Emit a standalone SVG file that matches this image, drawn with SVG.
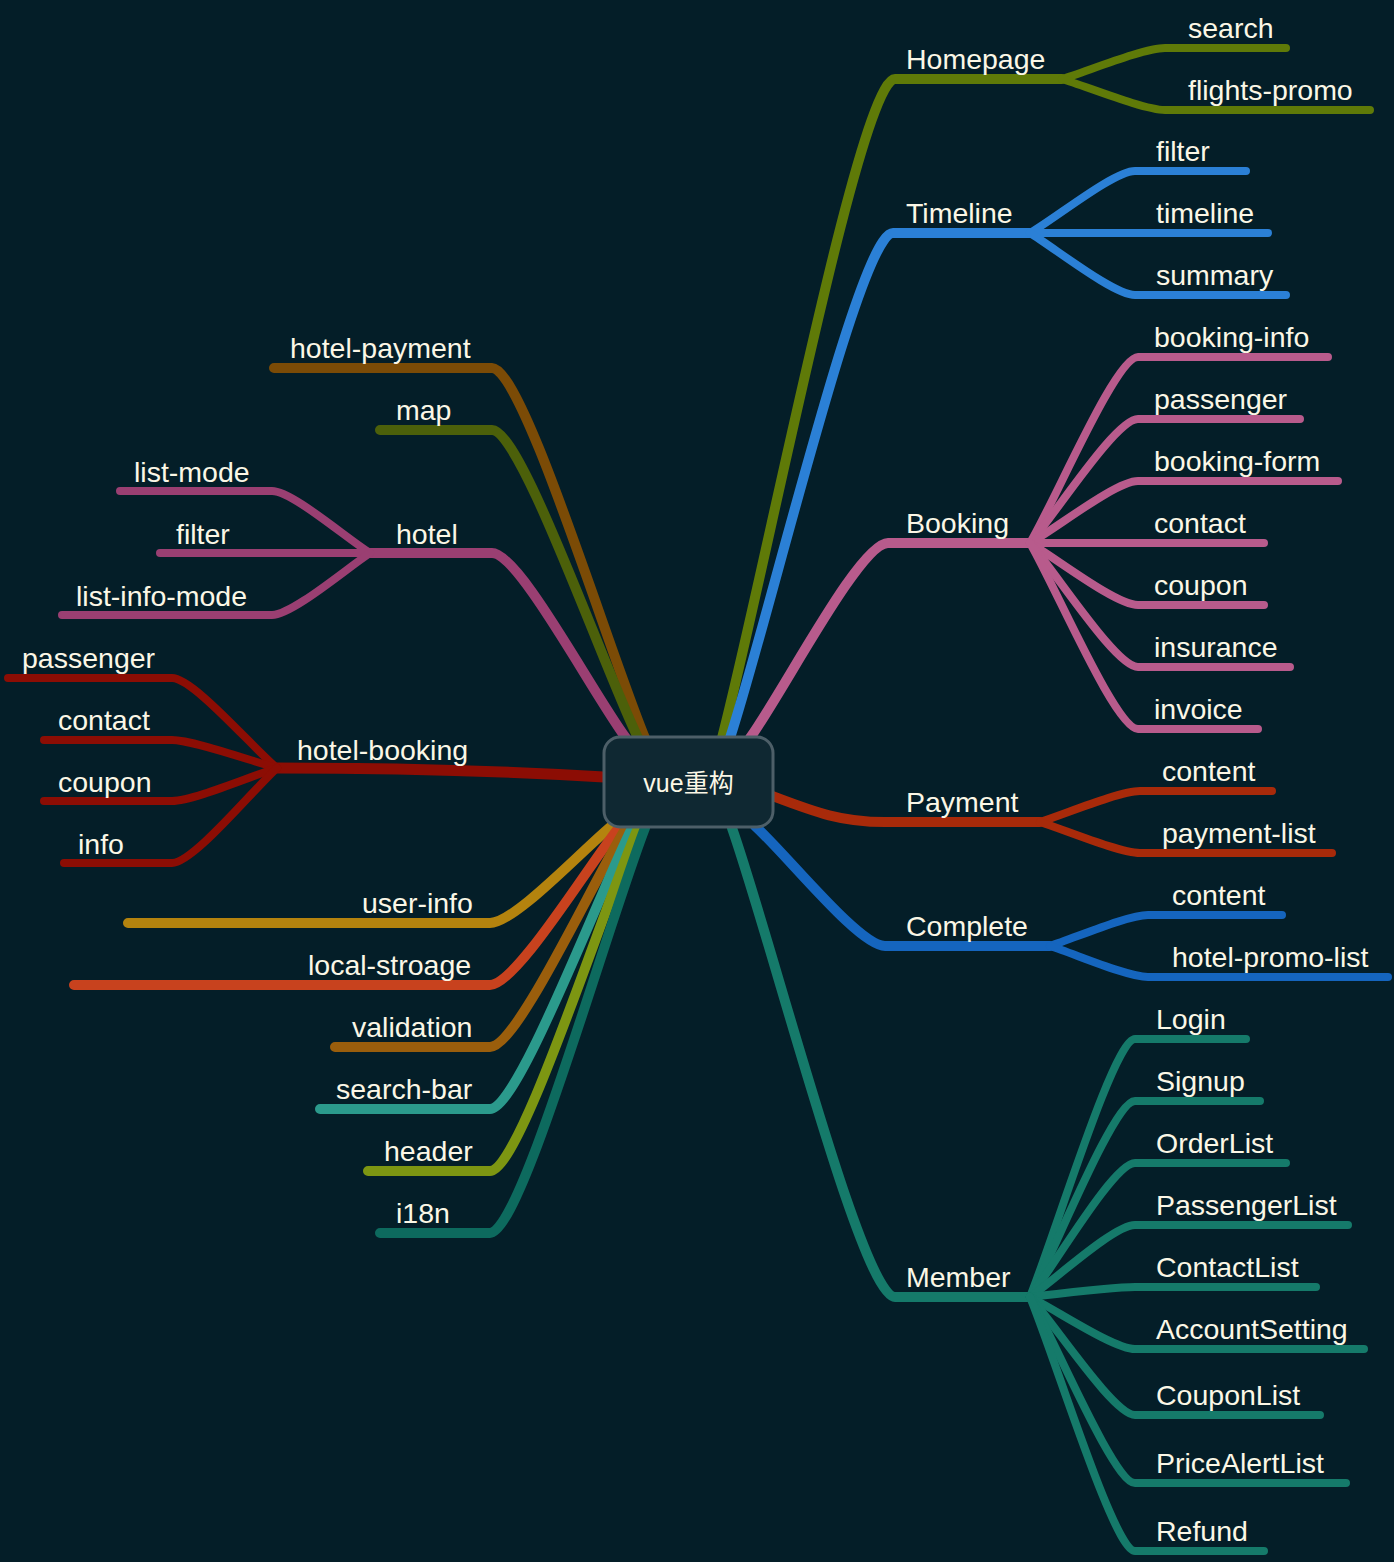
<svg xmlns="http://www.w3.org/2000/svg" width="1394" height="1562" viewBox="0 0 1394 1562">
<style>
.t{font-family:"Liberation Sans",Arial,sans-serif;font-size:28.5px;fill:#fbf7e6}
.r{font-family:"Liberation Sans","Noto Sans CJK SC",sans-serif;font-size:25px;fill:#fbf7e6}
.c path{fill:none;stroke-linecap:round;stroke-linejoin:round}
.m{stroke-width:10}
.s{stroke-width:8}
</style>
<rect width="1394" height="1562" fill="#041e28"/>
<g id="connectors" class="c">
<g stroke="#7b4b06"><path class="m" d="M645 738 C607 646 523 368 492 368 H274"/></g>
<g stroke="#4c600a"><path class="m" d="M638 738 C601 661 521 430 492 430 H380"/></g>
<g stroke="#9a3f72">
<path class="m" d="M626 738 C592 692 519 553 492 553 H370"/>
<path class="s" d="M370 553 C346 538 292 491 272 491 H120"/>
<path class="s" d="M370 553 H160"/>
<path class="s" d="M370 553 C346 569 292 615 272 615 H62"/>
</g>
<g stroke="#8c0d04">
<path stroke-width="11" d="M604 777 C520 772 420 768 277 768"/>
<path class="s" d="M277 768 C251 746 193 678 172 678 H8"/>
<path class="s" d="M277 768 C251 761 193 740 172 740 H44"/>
<path class="s" d="M277 768 C251 776 193 801 172 801 H44"/>
<path class="s" d="M277 768 C251 792 193 863 172 863 H64"/>
</g>
<g stroke="#b4830e"><path class="m" d="M614 824 C583 849 515 923 490 923 H128"/></g>
<g stroke="#c8421e"><path class="m" d="M620 826 C588 866 516 985 490 985 H74"/></g>
<g stroke="#9a5e0c"><path class="m" d="M626 828 C592 883 517 1047 490 1047 H335"/></g>
<g stroke="#2b9a8c"><path class="m" d="M632 828 C597 898 518 1109 490 1109 H320"/></g>
<g stroke="#7d9612"><path class="m" d="M638 828 C601 914 520 1171 490 1171 H368"/></g>
<g stroke="#0d6a5e"><path class="m" d="M645 828 C606 929 521 1233 490 1233 H380"/></g>
<g stroke="#5f7a08">
<path class="m" d="M722 738 C765 573 860 79 895 79 H1062"/>
<path class="s" d="M1062 79 C1088 71 1144 48 1165 48 H1286"/>
<path class="s" d="M1062 79 C1088 87 1144 110 1165 110 H1370"/>
</g>
<g stroke="#2b80d6">
<path class="m" d="M730 738 C771 612 860 233 893 233 H1030"/>
<path class="s" d="M1030 233 C1056 218 1114 171 1135 171 H1246"/>
<path class="s" d="M1030 233 H1268"/>
<path class="s" d="M1030 233 C1056 249 1114 295 1135 295 H1286"/>
</g>
<g stroke="#b85b8c">
<path class="m" d="M750 738 C785 689 860 543 888 543 H1030"/>
<path class="s" d="M1030 543 C1057 497 1116 357 1138 357 H1328"/>
<path class="s" d="M1030 543 C1057 512 1116 419 1138 419 H1300"/>
<path class="s" d="M1030 543 C1057 528 1116 481 1138 481 H1338"/>
<path class="s" d="M1030 543 H1264"/>
<path class="s" d="M1030 543 C1057 559 1116 605 1138 605 H1264"/>
<path class="s" d="M1030 543 C1057 574 1116 667 1138 667 H1290"/>
<path class="s" d="M1030 543 C1057 590 1116 729 1138 729 H1258"/>
</g>
<g stroke="#a82a0a">
<path class="m" d="M770 795 C815 812 840 822 885 822 H1040"/>
<path class="s" d="M1040 822 C1065 814 1120 791 1140 791 H1272"/>
<path class="s" d="M1040 822 C1065 830 1120 853 1140 853 H1332"/>
</g>
<g stroke="#1565be">
<path class="m" d="M755 826 C788 856 859 946 885 946 H1050"/>
<path class="s" d="M1050 946 C1075 938 1128 915 1148 915 H1282"/>
<path class="s" d="M1050 946 C1075 954 1128 977 1148 977 H1388"/>
</g>
<g stroke="#157a6a">
<path class="m" d="M732 828 C773 945 862 1297 895 1297 H1030"/>
<path class="s" d="M1030 1297 C1056 1232 1114 1039 1135 1039 H1246"/>
<path class="s" d="M1030 1297 C1056 1248 1114 1101 1135 1101 H1260"/>
<path class="s" d="M1030 1297 C1056 1263 1114 1163 1135 1163 H1286"/>
<path class="s" d="M1030 1297 C1056 1279 1114 1225 1135 1225 H1348"/>
<path class="s" d="M1030 1297 C1056 1294 1114 1287 1135 1287 H1316"/>
<path class="s" d="M1030 1297 C1056 1310 1114 1349 1135 1349 H1364"/>
<path class="s" d="M1030 1297 C1056 1326 1114 1415 1135 1415 H1320"/>
<path class="s" d="M1030 1297 C1056 1343 1114 1483 1135 1483 H1346"/>
<path class="s" d="M1030 1297 C1056 1360 1114 1551 1135 1551 H1264"/>
</g>
</g>
<g id="root"><rect x="604" y="737" width="169" height="90" rx="16" fill="#0f2832" stroke="#4d5f68" stroke-width="3"/><text class="r" x="688.5" y="792" text-anchor="middle">vue重构</text></g>
<g id="n-homepage"><text class="t" x="906" y="69">Homepage</text></g>
<g id="n-search"><text class="t" x="1188" y="38">search</text></g>
<g id="n-flights-promo"><text class="t" x="1188" y="100">flights-promo</text></g>
<g id="n-timeline-main"><text class="t" x="906" y="223">Timeline</text></g>
<g id="n-filter-t"><text class="t" x="1156" y="161">filter</text></g>
<g id="n-timeline"><text class="t" x="1156" y="223">timeline</text></g>
<g id="n-summary"><text class="t" x="1156" y="285">summary</text></g>
<g id="n-booking"><text class="t" x="906" y="533">Booking</text></g>
<g id="n-booking-info"><text class="t" x="1154" y="347">booking-info</text></g>
<g id="n-passenger-b"><text class="t" x="1154" y="409">passenger</text></g>
<g id="n-booking-form"><text class="t" x="1154" y="471">booking-form</text></g>
<g id="n-contact-b"><text class="t" x="1154" y="533">contact</text></g>
<g id="n-coupon-b"><text class="t" x="1154" y="595">coupon</text></g>
<g id="n-insurance"><text class="t" x="1154" y="657">insurance</text></g>
<g id="n-invoice"><text class="t" x="1154" y="719">invoice</text></g>
<g id="n-payment"><text class="t" x="906" y="812">Payment</text></g>
<g id="n-content-p"><text class="t" x="1162" y="781">content</text></g>
<g id="n-payment-list"><text class="t" x="1162" y="843">payment-list</text></g>
<g id="n-complete"><text class="t" x="906" y="936">Complete</text></g>
<g id="n-content-c"><text class="t" x="1172" y="905">content</text></g>
<g id="n-hotel-promo-list"><text class="t" x="1172" y="967">hotel-promo-list</text></g>
<g id="n-member"><text class="t" x="906" y="1287">Member</text></g>
<g id="n-login"><text class="t" x="1156" y="1029">Login</text></g>
<g id="n-signup"><text class="t" x="1156" y="1091">Signup</text></g>
<g id="n-orderlist"><text class="t" x="1156" y="1153">OrderList</text></g>
<g id="n-passengerlist"><text class="t" x="1156" y="1215">PassengerList</text></g>
<g id="n-contactlist"><text class="t" x="1156" y="1277">ContactList</text></g>
<g id="n-accountsetting"><text class="t" x="1156" y="1339">AccountSetting</text></g>
<g id="n-couponlist"><text class="t" x="1156" y="1405">CouponList</text></g>
<g id="n-pricealertlist"><text class="t" x="1156" y="1473">PriceAlertList</text></g>
<g id="n-refund"><text class="t" x="1156" y="1541">Refund</text></g>
<g id="n-hotel-payment"><text class="t" x="290" y="358">hotel-payment</text></g>
<g id="n-map"><text class="t" x="396" y="420">map</text></g>
<g id="n-list-mode"><text class="t" x="134" y="482">list-mode</text></g>
<g id="n-filter-h"><text class="t" x="176" y="544">filter</text></g>
<g id="n-hotel"><text class="t" x="396" y="544">hotel</text></g>
<g id="n-list-info-mode"><text class="t" x="76" y="606">list-info-mode</text></g>
<g id="n-passenger-h"><text class="t" x="22" y="668">passenger</text></g>
<g id="n-contact-h"><text class="t" x="58" y="730">contact</text></g>
<g id="n-hotel-booking"><text class="t" x="297" y="760">hotel-booking</text></g>
<g id="n-coupon-h"><text class="t" x="58" y="792">coupon</text></g>
<g id="n-info"><text class="t" x="78" y="854">info</text></g>
<g id="n-user-info"><text class="t" x="362" y="913">user-info</text></g>
<g id="n-local-stroage"><text class="t" x="308" y="975">local-stroage</text></g>
<g id="n-validation"><text class="t" x="352" y="1037">validation</text></g>
<g id="n-search-bar"><text class="t" x="336" y="1099">search-bar</text></g>
<g id="n-header"><text class="t" x="384" y="1161">header</text></g>
<g id="n-i18n"><text class="t" x="396" y="1223">i18n</text></g>
</svg>
